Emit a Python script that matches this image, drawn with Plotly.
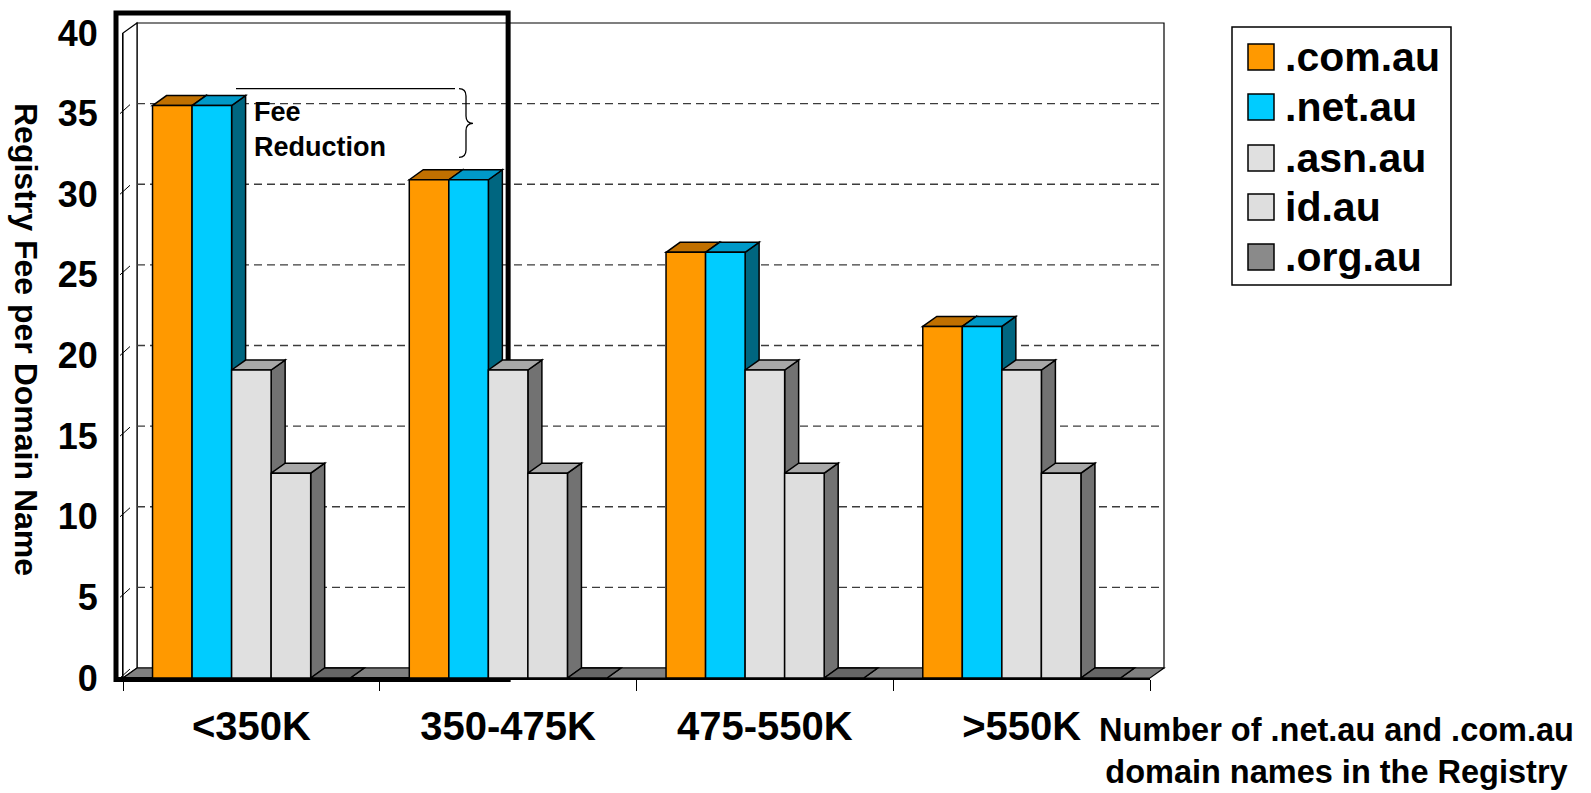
import plotly.graph_objects as go

# ---------------- data ----------------
categories = ["<350K", "350-475K", "475-550K", ">550K"]
series_names = [".com.au", ".net.au", ".asn.au", "id.au", ".org.au"]
com_au = [35.5, 30.9, 26.4, 21.8]
net_au = [35.5, 30.9, 26.4, 21.8]
asn_au = [19.1, 19.1, 19.1, 19.1]
id_au = [12.7, 12.7, 12.7, 12.7]
org_au = [0, 0, 0, 0]
y_ticks = [0, 5, 10, 15, 20, 25, 30, 35, 40]
y_title = "Registry Fee per Domain Name"
x_title = "Number of .net.au and .com.au<br>domain names in the Registry"
note_text = "Fee<br>Reduction"

series_values = [com_au, net_au, asn_au, id_au, org_au]

# ---------------- styles ----------------
front_colors = ["#FF9900", "#00CCFF", "#E0E0E0", "#DEDEDE", "#7C7C7C"]
top_colors = ["#C07000", "#0099C8", "#A8A8A8", "#A8A8A8", "#666666"]
side_colors = ["#8A5200", "#006680", "#727272", "#727272", "#5A5A5A"]
FONT = "Liberation Sans, Arial, Helvetica, sans-serif"

W, H = 1591, 793
L, R, T, B = 123, 441, 33, 115
PW = W - L - R
PH = H - T - B
XR = (-0.5, 3.5)
YR = (0, 40)
DEPTH_X, DEPTH_Y = 14, 10          # pseudo-3D depth in pixels
DX = DEPTH_X / PW
DY = DEPTH_Y / PH

BAR_W = 0.154
GAP = (1 - 5 * BAR_W) / 2


def xp(x):  # data x -> paper
    return (x - XR[0]) / (XR[1] - XR[0])


def yp(v):  # data y -> paper
    return (v - YR[0]) / (YR[1] - YR[0])


def pxl(px):  # pixel x -> paper
    return (px - L) / PW


def pyl(py):  # pixel y -> paper
    return (H - B - py) / PH


def poly(pts):
    s = "M " + " L ".join(f"{a:.5f},{b:.5f}" for a, b in pts) + " Z"
    return s


fig = go.Figure()

# ---------------- front faces (bar traces) ----------------
xs = list(range(len(categories)))
for i, (name, vals) in enumerate(zip(series_names, series_values)):
    fig.add_trace(go.Bar(
        x=xs, y=vals, name=name,
        width=BAR_W, offset=-0.5 + GAP + i * BAR_W,
        marker=dict(color=front_colors[i],
                    line=dict(color="black", width=1.5 if i < 4 else 0)),
        showlegend=False, hoverinfo="skip",
    ))

shapes = []
# back wall
shapes.append(dict(type="rect", xref="paper", yref="paper", layer="below",
                   x0=xp(XR[0]) + DX, x1=xp(XR[1]) + DX,
                   y0=yp(YR[0]) + DY, y1=yp(YR[1]) + DY,
                   fillcolor="white", line=dict(color="black", width=1.2)))
# left wall
shapes.append(dict(type="path", xref="paper", yref="paper", layer="below",
                   path=poly([(xp(XR[0]), yp(YR[0])), (xp(XR[0]) + DX, yp(YR[0]) + DY),
                              (xp(XR[0]) + DX, yp(YR[1]) + DY), (xp(XR[0]), yp(YR[1]))]),
                   fillcolor="white", line=dict(color="black", width=1.2)))
# gridlines on back wall + tick slashes on left wall
for v in y_ticks:
    if YR[0] < v < YR[1]:
        shapes.append(dict(type="line", xref="paper", yref="paper", layer="below",
                           x0=xp(XR[0]) + DX, x1=xp(XR[1]) + DX,
                           y0=yp(v) + DY, y1=yp(v) + DY,
                           line=dict(color="#3c3c3c", width=1.4, dash="8px,5px")))
    if v < YR[1]:
        shapes.append(dict(type="line", xref="paper", yref="paper", layer="below",
                           x0=xp(XR[0]) - 3 / PW, x1=xp(XR[0]) + 7 / PW,
                           y0=yp(v), y1=yp(v) + 9 / PH,
                           line=dict(color="black", width=1)))
# floor
shapes.append(dict(type="path", xref="paper", yref="paper", layer="below",
                   path=poly([(xp(XR[0]), yp(0)), (xp(XR[1]), yp(0)),
                              (xp(XR[1]) + DX, yp(0) + DY), (xp(XR[0]) + DX, yp(0) + DY)]),
                   fillcolor="#808080", line=dict(color="black", width=1.2)))
# highlight box around first two groups
shapes.append(dict(type="rect", xref="paper", yref="paper", layer="below",
                   x0=pxl(116), x1=xp(1.0), y0=pyl(679.5), y1=pyl(13),
                   line=dict(color="black", width=5)))

# 3D sides and tops of bars
for c in xs:
    for i, vals in enumerate(series_values):
        v = vals[c]
        xl = xp(c - 0.5 + GAP + i * BAR_W)
        xr = xp(c - 0.5 + GAP + (i + 1) * BAR_W)
        shapes.append(dict(type="path", xref="paper", yref="paper", layer="below",
                           path=poly([(xr, yp(0)), (xr, yp(v)), (xr + DX, yp(v) + DY),
                                      (xr + DX, yp(0) + DY)]),
                           fillcolor=side_colors[i], line=dict(color="black", width=1.5)))
        shapes.append(dict(type="path", xref="paper", yref="paper", layer="below",
                           path=poly([(xl, yp(v)), (xl + DX, yp(v) + DY),
                                      (xr + DX, yp(v) + DY), (xr, yp(v))]),
                           fillcolor=top_colors[i], line=dict(color="black", width=1.5)))

# "Fee Reduction" bracket
shapes.append(dict(type="line", xref="paper", yref="paper", layer="above",
                   x0=pxl(236), x1=pxl(455), y0=pyl(88.7), y1=pyl(88.7),
                   line=dict(color="black", width=1.3)))
brace_pts = [("M", 459, 88.7), ("Q", 466, 88.7, 466, 96), ("L", 466, 116),
             ("Q", 466, 123.3, 473, 123.3), ("Q", 466, 123.3, 466, 130.6),
             ("L", 466, 150), ("Q", 466, 157.3, 459, 157.3)]
bp = []
for cmd in brace_pts:
    op = cmd[0]
    nums = cmd[1:]
    coords = []
    for k in range(0, len(nums), 2):
        coords.append(f"{pxl(nums[k]):.5f},{pyl(nums[k + 1]):.5f}")
    bp.append(op + " " + " ".join(coords))
shapes.append(dict(type="path", xref="paper", yref="paper", layer="above",
                   path=" ".join(bp), line=dict(color="black", width=1.3)))

# custom legend
shapes.append(dict(type="rect", xref="paper", yref="paper", layer="above",
                   x0=pxl(1232), x1=pxl(1451), y0=pyl(285), y1=pyl(27),
                   fillcolor="white", line=dict(color="black", width=1.5)))
leg_y = [57, 107, 158, 207, 257]
legend_swatch = ["#FF9900", "#00CCFF", "#E0E0E0", "#DEDEDE", "#8A8A8A"]
annotations = []
for i, name in enumerate(series_names):
    cy = leg_y[i]
    shapes.append(dict(type="rect", xref="paper", yref="paper", layer="above",
                       x0=pxl(1248), x1=pxl(1274), y0=pyl(cy + 13), y1=pyl(cy - 13),
                       fillcolor=legend_swatch[i], line=dict(color="black", width=1.5)))
    annotations.append(dict(xref="paper", yref="paper", x=pxl(1283), y=pyl(cy),
                            xanchor="left", yanchor="middle", showarrow=False,
                            text=name, font=dict(family=FONT, size=41, color="black", weight="bold")))

annotations.append(dict(xref="paper", yref="paper", x=pxl(252), y=pyl(130),
                        xanchor="left", yanchor="middle", align="left", showarrow=False,
                        text=note_text, font=dict(family=FONT, size=27, color="black", weight="bold")))
annotations.append(dict(xref="paper", yref="paper", x=pxl(26), y=pyl(339),
                        xanchor="center", yanchor="middle", showarrow=False, textangle=90,
                        text=y_title, font=dict(family=FONT, size=32, color="black", weight="bold")))
annotations.append(dict(xref="paper", yref="paper", x=pxl(1336), y=pyl(751),
                        xanchor="center", yanchor="middle", align="center", showarrow=False,
                        text=x_title, font=dict(family=FONT, size=32.5, color="black", weight="bold")))

fig.update_layout(
    width=W, height=H, autosize=False,
    margin=dict(l=L, r=R, t=T, b=B, pad=0),
    paper_bgcolor="white", plot_bgcolor="rgba(0,0,0,0)",
    barmode="overlay", showlegend=False,
    shapes=shapes, annotations=annotations,
    xaxis=dict(range=list(XR), tickmode="array", tickvals=xs, ticktext=categories,
               ticks="", showgrid=False, zeroline=False, showline=True,
               linecolor="black", linewidth=1.5, fixedrange=True,
               tickfont=dict(family=FONT, size=40, color="black", weight="bold"),
               ticklabelstandoff=12,
               minor=dict(tickmode="array", tickvals=[-0.5, 0.5, 1.5, 2.5, 3.5],
                          ticks="outside", ticklen=11, tickcolor="black",
                          tickwidth=1.2, showgrid=False)),
    yaxis=dict(range=list(YR), tickmode="array", tickvals=y_ticks,
               ticks="", showgrid=False, zeroline=False, showline=True,
               linecolor="black", linewidth=1.2, fixedrange=True,
               tickfont=dict(family=FONT, size=36, color="black", weight="bold"),
               ticklabelstandoff=17),
)

fig.write_html("out.html")
